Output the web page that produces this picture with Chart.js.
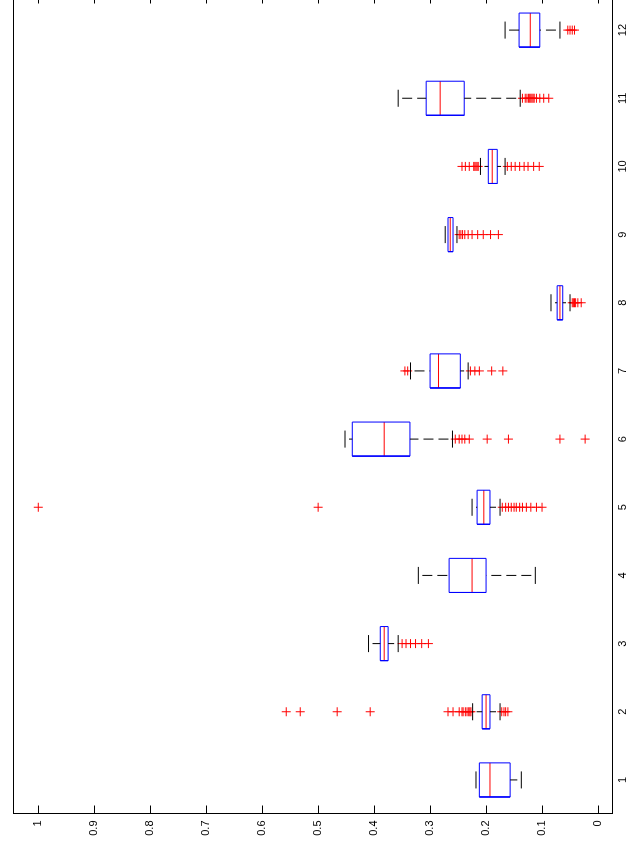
<!DOCTYPE html>
<html>
<head>
<meta charset="utf-8">
<script src="https://cdn.jsdelivr.net/npm/chart.js@4/dist/chart.umd.min.js"></script>
<style>
  html, body { margin: 0; padding: 0; width: 635px; height: 846px; overflow: hidden; background: #fff; }
  /* the figure is drawn upright and turned a quarter turn, like the original */
  #wrap { position: absolute; left: 0; top: 0; width: 860px; height: 635px;
          transform-origin: 0 0; transform: translate(0, 846px) rotate(-90deg); }
</style>
</head>
<body>
<div id="wrap"><canvas id="bp" width="860" height="635"></canvas></div>
<script>
var CATEGORIES  = [1, 2, 3, 4, 5, 6, 7, 8, 9, 10, 11, 12];
var VALUE_TICKS = [0, 0.1, 0.2, 0.3, 0.4, 0.5, 0.6, 0.7, 0.8, 0.9, 1];

var MEDIAN     = [0.193, 0.200, 0.382, 0.225, 0.204, 0.382, 0.285, 0.068, 0.264, 0.189, 0.282, 0.121];
var Q1         = [0.157, 0.193, 0.375, 0.200, 0.193, 0.336, 0.246, 0.063, 0.259, 0.180, 0.239, 0.104];
var Q3         = [0.212, 0.207, 0.389, 0.266, 0.216, 0.439, 0.300, 0.073, 0.268, 0.196, 0.307, 0.141];
var WHISK_LO   = [0.137, 0.175, 0.357, 0.112, 0.175, 0.260, 0.232, 0.050, 0.252, 0.166, 0.139, 0.068];
var WHISK_HI   = [0.218, 0.224, 0.410, 0.321, 0.225, 0.452, 0.335, 0.084, 0.273, 0.210, 0.357, 0.166];
var OUTLIERS   = [
  [],
  [0.557, 0.532, 0.466, 0.407, 0.268, 0.259, 0.248, 0.243, 0.241, 0.237, 0.234, 0.231, 0.229, 0.227, 0.172, 0.168, 0.165, 0.161],
  [0.350, 0.343, 0.335, 0.326, 0.315, 0.303],
  [],
  [1.0, 0.5, 0.171, 0.165, 0.160, 0.155, 0.150, 0.146, 0.140, 0.135, 0.128, 0.120, 0.110, 0.100],
  [0.255, 0.248, 0.243, 0.238, 0.230, 0.198, 0.160, 0.068, 0.023],
  [0.345, 0.340, 0.228, 0.220, 0.212, 0.190, 0.170],
  [0.046, 0.044, 0.042, 0.040, 0.036, 0.030],
  [0.248, 0.245, 0.242, 0.238, 0.232, 0.225, 0.215, 0.205, 0.192, 0.178],
  [0.243, 0.237, 0.230, 0.222, 0.220, 0.218, 0.216, 0.214, 0.162, 0.155, 0.148, 0.140, 0.132, 0.125, 0.115, 0.105],
  [0.135, 0.130, 0.127, 0.124, 0.122, 0.120, 0.118, 0.116, 0.114, 0.110, 0.104, 0.097, 0.088],
  [0.054, 0.050, 0.046, 0.042]
];

var BOX_HALF = 0.25;
var CAP_HALF = 0.125;

function gap(arr, x) { arr.push({ x: x, y: null }); }

var boxPts = [], medPts = [], stemPts = [], capPts = [], outPts = [];
CATEGORIES.forEach(function (c, i) {
  boxPts.push({ x: c - BOX_HALF, y: Q1[i] }, { x: c + BOX_HALF, y: Q1[i] },
              { x: c + BOX_HALF, y: Q3[i] }, { x: c - BOX_HALF, y: Q3[i] },
              { x: c - BOX_HALF, y: Q1[i] });
  gap(boxPts, c);
  medPts.push({ x: c - BOX_HALF, y: MEDIAN[i] }, { x: c + BOX_HALF, y: MEDIAN[i] });
  gap(medPts, c);
  // whiskers drawn from the cap toward the box
  stemPts.push({ x: c, y: WHISK_HI[i] }, { x: c, y: Q3[i] });
  gap(stemPts, c);
  stemPts.push({ x: c, y: WHISK_LO[i] }, { x: c, y: Q1[i] });
  gap(stemPts, c);
  capPts.push({ x: c - CAP_HALF, y: WHISK_HI[i] }, { x: c + CAP_HALF, y: WHISK_HI[i] });
  gap(capPts, c);
  capPts.push({ x: c - CAP_HALF, y: WHISK_LO[i] }, { x: c + CAP_HALF, y: WHISK_LO[i] });
  gap(capPts, c);
  OUTLIERS[i].forEach(function (v) { outPts.push({ x: c, y: v }); });
});

// box frame with inward ticks on both value edges (matlab style)
var framePlugin = {
  id: 'frame',
  afterDraw: function (chart) {
    var a = chart.chartArea, ctx = chart.ctx, ys = chart.scales.y;
    var l = Math.round(a.left) + 0.5, r = Math.round(a.right) + 0.5;
    var t = Math.round(a.top) + 0.5, b = Math.round(a.bottom) + 0.5;
    ctx.save();
    ctx.strokeStyle = '#000';
    ctx.lineWidth = 1;
    ctx.strokeRect(l, t, r - l, b - t);
    ctx.beginPath();
    VALUE_TICKS.forEach(function (v) {
      var py = Math.round(ys.getPixelForValue(v)) + 0.5;
      ctx.moveTo(l, py); ctx.lineTo(l + 8, py);
      ctx.moveTo(r, py); ctx.lineTo(r - 8, py);
    });
    ctx.stroke();
    ctx.restore();
  }
};

function lineSet(data, color, dash) {
  return {
    data: data, showLine: true, spanGaps: false, borderColor: color,
    borderWidth: 1, borderDash: dash || [], borderDashOffset: dash ? 11 : 0,
    pointRadius: 0, pointHoverRadius: 0
  };
}

var outSet = {
  data: outPts, showLine: false, pointStyle: 'cross', pointRadius: 4.5,
  pointBorderColor: '#ff0000', borderColor: '#ff0000', pointBorderWidth: 1,
  backgroundColor: '#ff0000'
};

new Chart(document.getElementById('bp').getContext('2d'), {
  type: 'scatter',
  data: {
    datasets: [
      lineSet(stemPts, '#000000', [10, 5]),
      lineSet(capPts, '#000000'),
      lineSet(boxPts, '#0000ff'),
      lineSet(medPts, '#ff0000'),
      outSet
    ]
  },
  options: {
    responsive: false,
    animation: false,
    layout: { padding: { top: 13, right: 10, bottom: 0, left: 0 } },
    plugins: { legend: { display: false }, tooltip: { enabled: false } },
    scales: {
      x: {
        type: 'linear', min: 0.5, max: 12.5,
        afterBuildTicks: function (s) { s.ticks = CATEGORIES.map(function (v) { return { value: v }; }); },
        afterFit: function (s) { s.height = 23; },
        grid: { display: false, drawTicks: false }, border: { display: false },
        ticks: { padding: 4, color: '#000', font: { family: 'Liberation Sans', size: 11 },
                 maxRotation: 0, autoSkip: false,
                 callback: function (v) { return String(v); } }
      },
      y: {
        type: 'linear', min: -0.025, max: 1.045,
        afterBuildTicks: function (s) { s.ticks = VALUE_TICKS.map(function (v) { return { value: v }; }); },
        afterFit: function (s) { s.width = 32; },
        grid: { display: false, drawTicks: false }, border: { display: false },
        ticks: { padding: 6.5, color: '#000', font: { family: 'Liberation Sans', size: 11 },
                 autoSkip: false,
                 callback: function (v) { return String(v); } }
      }
    }
  },
  plugins: [framePlugin]
});
</script>
</body>
</html>
